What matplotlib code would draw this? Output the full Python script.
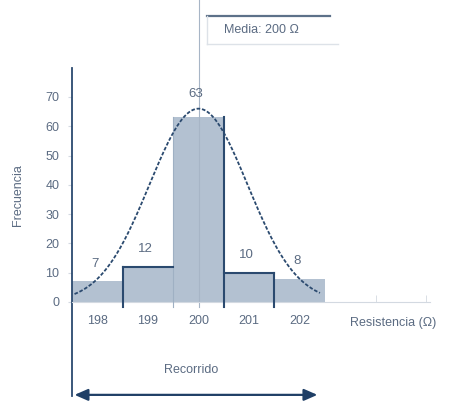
import numpy as np
import matplotlib.pyplot as plt

plt.rcParams['font.family'] = ['Liberation Sans', 'DejaVu Sans']

# histograma de resistencias medidas
valores = [198, 199, 200, 201, 202]
frecuencias = [7, 12, 63, 10, 8]
etiquetas_y = [0, 10, 20, 30, 40, 50, 60, 70]
media = 200
sigma = 0.97
pico = 66

texto = '#5b6b82'
oscuro = '#2b4a6f'
relleno = '#b3c1d1'
gris = '#d3d9e1'

fig = plt.figure(figsize=(4.69, 4.01), dpi=100)
ax = fig.add_axes([72 / 469, 99 / 401, 358 / 469, 228.5 / 401])
ax.set_xlim(valores[0] - 0.5, 204.575)
ax.set_ylim(0, 78)

ax.bar(valores, frecuencias, width=1, color=relleno, linewidth=0, zorder=1)

# curva normal ajustada
xs = np.linspace(valores[0] - 0.45, valores[-1] + 0.4, 300)
ys = pico * np.exp(-(xs - media) ** 2 / (2 * sigma ** 2))
ax.plot(xs, ys, color=oscuro, lw=1.3, ls=(0, (2, 1)), zorder=4)

# bordes de las clases
ax.plot([media, media], [-1.7, 103], color='#a7b5c6', lw=0.8, clip_on=False, zorder=2)
for i in range(len(valores) - 1):
    borde = valores[i] + 0.5
    alto = max(frecuencias[i], frecuencias[i + 1])
    color = '#9fb0c3' if valores[i] == 199 else oscuro
    lw = 0.8 if valores[i] == 199 else 1.5
    ax.plot([borde, borde], [-1.7, alto], color=color, lw=lw, clip_on=False, zorder=3)
for v, f in zip(valores, frecuencias):
    if v in (199, 201):
        ax.plot([v - 0.5, v + 0.5], [f, f], color=oscuro, lw=1.5, zorder=3)

for v, f in zip(valores, frecuencias):
    dy = 8 if f == max(frecuencias) else 6
    ax.text(v - 0.05, f + dy, str(f), ha='center', va='center', fontsize=9.5, color=texto)

# ejes
for s in ['top', 'right', 'left']:
    ax.spines[s].set_visible(False)
ax.spines['bottom'].set_color(gris)
ax.axvline(valores[0] - 0.5, ymin=-0.41, ymax=1.025, color=oscuro, lw=1.3, clip_on=False)

ax.set_yticks(etiquetas_y)
ax.set_yticklabels([str(e) for e in etiquetas_y])
ax.tick_params(axis='y', length=3, color=gris, labelcolor=texto, labelsize=9, pad=6)
ax.set_xticks(valores)
ax.set_xticklabels([str(v) for v in valores])
ax.tick_params(axis='x', length=0, labelcolor=texto, labelsize=9, pad=9)
ax.set_xticks([203.5, 204.5], minor=True)
ax.tick_params(axis='x', which='minor', direction='in', length=5, color=gris)

fig.text(18 / 469, 1 - 195 / 401, 'Frecuencia', rotation=90, ha='center', va='center',
         fontsize=9, color=texto)
ax.text(203.0, -7.3, 'Resistencia (Ω)', ha='left', va='center', fontsize=9,
        color=texto, clip_on=False)

# recorrido
ax.text(199.85, -23.2, 'Recorrido', ha='center', va='center', fontsize=9,
        color=texto, clip_on=False)
ax.annotate('', xy=(valores[-1] + 0.35, -31.7), xytext=(valores[0] - 0.45, -31.7),
            arrowprops=dict(arrowstyle='<|-|>,head_length=0.8,head_width=0.35',
                            color='#1f3f66', lw=1.6, shrinkA=0, shrinkB=0),
            annotation_clip=False)

# recuadro de la media
ax.plot([200.17, 202.6], [97.6, 97.6], color='#5d7189', lw=1.6, clip_on=False)
ax.plot([200.17, 202.75], [88.1, 88.1], color='#dde2e8', lw=1, clip_on=False)
ax.plot([200.17, 200.17], [88.1, 97.6], color='#dde2e8', lw=1, clip_on=False)
ax.text(200.5, 92.7, 'Media: 200 Ω', ha='left', va='center', fontsize=9,
        color=texto, clip_on=False)

fig.savefig('out.png', dpi=100)
